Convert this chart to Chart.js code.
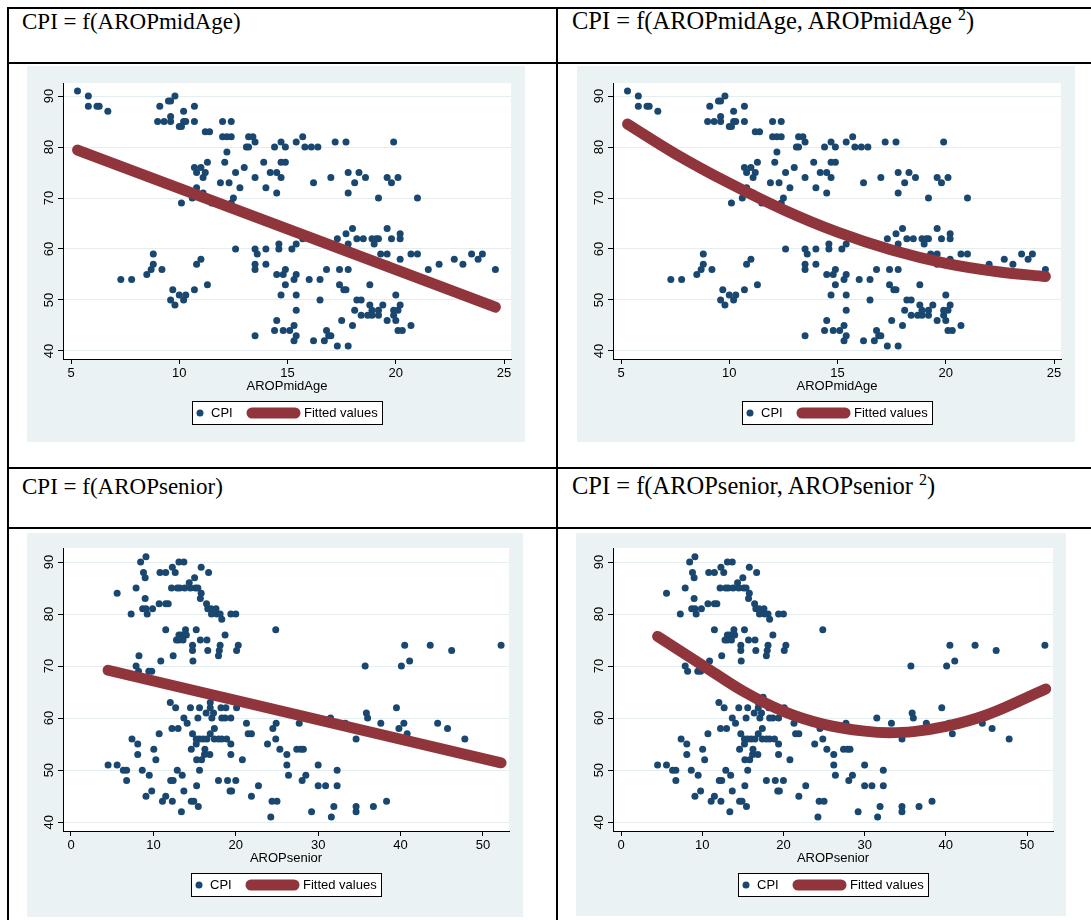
<!DOCTYPE html>
<html>
<head>
<meta charset="utf-8">
<script src="https://cdn.jsdelivr.net/npm/chart.js@4.4.1/dist/chart.umd.min.js"></script>
<style>
  html, body { margin: 0; padding: 0; background: #fff; }
  body { width: 1091px; height: 920px; overflow: hidden; position: relative; }
  .rule { position: absolute; background: #000; }
  .head { position: absolute; font-family: "Liberation Serif", "Times New Roman", serif; font-size: 23px; line-height: 23px; color: #000; white-space: nowrap; }
  .head.big { font-size: 24.5px; line-height: 24.5px; }
  .head .sup { font-size: 16px; position: relative; top: -9px; }
  canvas { position: absolute; background: #eaf2f3; }
</style>
</head>
<body>
  <div class="rule" style="left:7px;top:7px;width:1100px;height:2px"></div>
  <div class="rule" style="left:7px;top:7px;width:2px;height:920px"></div>
  <div class="rule" style="left:556px;top:7px;width:2px;height:920px"></div>
  <div class="rule" style="left:7px;top:62px;width:1100px;height:2px"></div>
  <div class="rule" style="left:7px;top:467px;width:1100px;height:2px"></div>
  <div class="rule" style="left:7px;top:527px;width:1100px;height:2px"></div>

  <div class="head" style="left:22px;top:10px">CPI = f(AROPmidAge)</div>
  <div class="head big" style="left:572px;top:9px">CPI = f(AROPmidAge, AROPmidAge <span class="sup">2</span>)</div>
  <div class="head" style="left:22px;top:475px">CPI = f(AROPsenior)</div>
  <div class="head big" style="left:572px;top:474px">CPI = f(AROPsenior, AROPsenior <span class="sup">2</span>)</div>

  <canvas id="midLin" width="498" height="376" style="left:27px;top:66px"></canvas>
  <canvas id="midQuad" width="498" height="376" style="left:577px;top:66px"></canvas>
  <canvas id="senLin" width="496" height="384" style="left:27px;top:533px"></canvas>
  <canvas id="senQuad" width="490" height="383" style="left:576px;top:533px"></canvas>

<script>
// CPI against at-risk-of-poverty rate, middle-aged population
const midAgeX = [
  5.3,
  5.8, 9.8,
  9.5, 9.6,
  5.8, 6.2, 6.3, 9.1, 10.7,
  6.7, 10.2,
  9.6,
  9.0, 9.3, 9.6, 10.2, 10.3, 10.7, 12.0, 12.4,
  10.0, 10.1,
  11.2, 11.4,
  12.0, 12.2, 12.4, 13.2, 13.4, 15.7,
  13.5, 14.7, 15.4, 17.2, 17.7, 19.9,
  13.1, 13.2, 14.4, 14.9, 15.8, 16.1, 16.4,
  12.2,
  11.3, 12.1, 13.9, 14.7, 14.9,
  10.7, 11.0, 13.0,
  10.8, 11.2, 12.6, 14.2, 14.5, 17.8, 18.3,
  11.1, 13.5, 14.7, 17.0, 18.6, 19.6, 20.1,
  11.9, 12.3, 16.2, 18.1, 19.8,
  10.8, 12.8, 14.0,
  11.1, 14.5, 17.8,
  10.6, 12.5, 19.2, 21.0,
  10.1, 11.5, 12.4,
  18.0, 19.6,
  17.7, 20.2,
  15.7, 17.3, 18.2, 18.5, 18.9, 19.1, 19.2, 19.8, 20.2,
  14.6, 15.4, 17.8, 19.0,
  12.6, 13.5, 14.0, 14.6, 15.2, 17.3, 17.8,
  8.8, 13.6, 19.3, 19.6, 20.7, 21.0, 23.5, 24.0,
  11.0, 20.2, 22.7, 23.8,
  8.8, 10.8, 13.5, 14.0, 19.6, 22.0, 23.1,
  8.7, 9.2, 13.5, 14.9, 16.8, 17.4, 17.8, 21.5, 24.6,
  8.5, 14.5, 14.8, 15.4,
  7.3, 7.8, 15.3, 16.0, 16.5,
  11.3, 14.9, 17.4, 18.8,
  9.7, 10.7, 17.6, 17.7,
  10.0, 10.3, 14.7, 15.4, 20.0,
  9.6, 10.2, 16.5, 18.2, 18.4,
  9.8, 18.8, 19.4, 20.2,
  15.4, 18.1, 18.9, 19.2, 19.9, 20.1,
  18.4, 18.7, 18.9, 19.2, 19.9,
  14.5, 17.5, 19.6, 20.0,
  15.3, 18.0, 20.7,
  14.4, 14.8, 15.1, 16.8, 20.1, 20.3,
  13.5, 15.4, 16.9, 17.0,
  15.3, 16.2, 16.7,
  17.3, 17.8
];
const midAgeCPI = [
  91,
  90, 90,
  89, 89,
  88, 88, 88, 88, 88,
  87, 87,
  86,
  85, 85, 85, 85, 85, 85, 85, 85,
  84, 84,
  83, 83,
  82, 82, 82, 82, 82, 82,
  81, 81, 81, 81, 81, 81,
  80, 80, 80, 80, 80, 80, 80,
  79,
  77, 77, 77, 77, 77,
  76, 76, 76,
  75, 75, 75, 75, 75, 75, 75,
  74, 74, 74, 74, 74, 74, 74,
  73, 73, 73, 73, 73,
  72, 72, 72,
  71, 71, 71,
  70, 70, 70, 70,
  69, 69, 69,
  64, 64,
  63, 63,
  62, 62, 62, 62, 62, 62, 62, 62, 62,
  61, 61, 61, 61,
  60, 60, 60, 60, 60, 60, 60,
  59, 59, 59, 59, 59, 59, 59, 59,
  58, 58, 58, 58,
  57, 57, 57, 57, 57, 57, 57,
  56, 56, 56, 56, 56, 56, 56, 56, 56,
  55, 55, 55, 55,
  54, 54, 54, 54, 54,
  53, 53, 53, 53,
  52, 52, 52, 52,
  51, 51, 51, 51, 51,
  50, 50, 50, 50, 50,
  49, 49, 49, 49,
  48, 48, 48, 48, 48, 48,
  47, 47, 47, 47, 47,
  46, 46, 46, 46,
  45, 45, 45,
  44, 44, 44, 44, 44, 44,
  43, 43, 43, 43,
  42, 42, 42,
  41, 41
];

// CPI against at-risk-of-poverty rate, seniors
const seniorX = [
  9.1,
  8.45, 13.1, 13.7,
  12.3, 15.8,
  8.8, 10.8, 11.5, 12.65, 16.7,
  9.0, 15.0,
  14.35,
  7.9, 12.2, 12.9, 13.2, 13.8, 14.5, 15.1, 15.4,
  5.6, 15.8,
  9.0, 15.7,
  10.7, 11.5, 11.8, 16.45,
  8.7, 9.1, 9.9, 16.6, 17.0, 17.6,
  7.3, 9.25, 17.05, 17.7, 18.1, 19.4, 20.0,
  18.3,
  11.5, 13.9, 15.2, 24.85,
  13.1, 13.4, 14.0, 18.7,
  12.8, 13.1, 13.6, 15.7, 16.5,
  14.75, 18.1, 20.3, 40.5, 43.6, 52.2,
  14.75, 16.6, 18.0, 20.1, 46.2,
  8.25, 12.4, 17.9,
  10.9, 14.8, 41.1,
  7.9, 35.7, 40.1,
  8.2, 9.45, 9.8,
  17.5,
  12.05, 16.9,
  12.7, 14.5, 15.6, 16.9, 18.2, 18.8, 20.1, 39.5,
  16.4, 17.3, 35.85,
  13.7, 15.4, 17.1, 18.3, 18.7, 19.4, 31.5, 36.0,
  14.1, 21.3, 24.9, 27.7, 33.3, 37.6, 40.4, 44.5,
  12.25, 13.0, 17.4, 24.5, 39.8, 45.7,
  10.7, 14.75, 16.9, 21.5, 21.9, 40.8,
  7.4, 15.2, 15.6, 16.05, 16.5, 17.4, 17.9, 18.3, 18.9, 24.85, 34.6, 47.8,
  8.1, 15.2, 19.4, 23.85,
  10.05, 14.6, 16.25, 25.35, 27.4, 27.9, 28.2,
  8.1, 16.2, 16.85, 19.4, 26.2,
  10.3, 15.25, 15.85, 20.8,
  4.5, 5.6, 26.2, 30.0,
  6.35, 6.75, 8.65, 12.9, 15.6, 32.3,
  9.5, 13.5, 26.4, 28.5,
  6.75, 12.1, 12.4, 17.9, 19.0, 20.0, 28.05,
  15.25, 22.75, 30.0, 30.9, 32.3,
  9.8, 13.7, 19.3, 19.5,
  9.1, 11.5, 21.9,
  11.1, 12.3, 14.6, 14.9, 24.4, 25.0, 38.3,
  15.45, 31.9, 34.6, 36.7,
  13.4, 29.2, 34.6,
  24.25, 31.6
];
const seniorCPI = [
  91,
  90, 90, 90,
  89, 89,
  88, 88, 88, 88, 88,
  87, 87,
  86,
  85, 85, 85, 85, 85, 85, 85, 85,
  84, 84,
  83, 83,
  82, 82, 82, 82,
  81, 81, 81, 81, 81, 81,
  80, 80, 80, 80, 80, 80, 80,
  79,
  77, 77, 77, 77,
  76, 76, 76, 76,
  75, 75, 75, 75, 75,
  74, 74, 74, 74, 74, 74,
  73, 73, 73, 73, 73,
  72, 72, 72,
  71, 71, 71,
  70, 70, 70,
  69, 69, 69,
  64,
  63, 63,
  62, 62, 62, 62, 62, 62, 62, 62,
  61, 61, 61,
  60, 60, 60, 60, 60, 60, 60, 60,
  59, 59, 59, 59, 59, 59, 59, 59,
  58, 58, 58, 58, 58, 58,
  57, 57, 57, 57, 57, 57,
  56, 56, 56, 56, 56, 56, 56, 56, 56, 56, 56, 56,
  55, 55, 55, 55,
  54, 54, 54, 54, 54, 54, 54,
  53, 53, 53, 53, 53,
  52, 52, 52, 52,
  51, 51, 51, 51,
  50, 50, 50, 50, 50, 50,
  49, 49, 49, 49,
  48, 48, 48, 48, 48, 48, 48,
  47, 47, 47, 47, 47,
  46, 46, 46, 46,
  45, 45, 45,
  44, 44, 44, 44, 44, 44, 44,
  43, 43, 43, 43,
  42, 42, 42,
  41, 41
];

// fitted values
const fitMidLinX = [5.3, 24.6];
const fitMidLinY = [79.4, 48.6];
const fitMidQuadX = [5.3, 7.5, 10, 12.5, 15, 17.5, 20, 22.5, 24.6];
const fitMidQuadY = [84.5, 78.7, 72.9, 67.7, 63.3, 59.8, 57.2, 55.5, 54.6];
const fitSenLinX = [4.5, 52.2];
const fitSenLinY = [69.2, 51.4];
const fitSenQuadX = [4.5, 10, 15, 20, 25, 30, 33, 36, 40, 45, 52.3];
const fitSenQuadY = [75.7, 70.2, 65.2, 61.3, 58.8, 57.5, 57.2, 57.4, 58.4, 60.6, 65.6];

const midAgeTicks = [5, 10, 15, 20, 25];
const seniorTicks = [0, 10, 20, 30, 40, 50];
const cpiTicks = [40, 50, 60, 70, 80, 90];

const NAVY = "#1a476f";
const MAROON = "#90353b";
const FONT = { family: "'Liberation Sans', Arial, sans-serif", size: 13 };
const AXIS_H = 40;

const plotBackground = {
  id: "plotBackground",
  beforeDraw(chart) {
    const { ctx, chartArea: a } = chart;
    ctx.save();
    ctx.fillStyle = "#fff";
    ctx.fillRect(a.left, a.top, a.right - a.left, a.bottom - a.top);
    ctx.restore();
  }
};

// Stata writes the y labels turned on their side
const sideLabels = {
  id: "sideLabels",
  afterDraw(chart) {
    const { ctx } = chart;
    const s = chart.scales.y;
    ctx.save();
    ctx.font = "13px " + FONT.family;
    ctx.fillStyle = "#000";
    ctx.textAlign = "center";
    ctx.textBaseline = "middle";
    s.ticks.forEach(t => {
      ctx.save();
      ctx.translate(s.right - 14, s.getPixelForValue(t.value));
      ctx.rotate(-Math.PI / 2);
      ctx.fillText(String(t.value), 0, 0);
      ctx.restore();
    });
    ctx.restore();
  }
};

const boxedLegend = {
  id: "boxedLegend",
  afterDraw(chart) {
    const { ctx, chartArea: a } = chart;
    const fit = chart.data.datasets[0];
    const pts = chart.data.datasets[1];
    const w = 191, h = 24;
    const left = Math.round((a.left + a.right) / 2 - w / 2);
    const top = Math.round(a.bottom + 42);
    const my = top + h / 2;
    ctx.save();
    ctx.fillStyle = "#fff";
    ctx.fillRect(left, top, w, h);
    ctx.strokeStyle = "#000";
    ctx.lineWidth = 1;
    ctx.strokeRect(left + 0.5, top + 0.5, w - 1, h - 1);
    ctx.fillStyle = pts.backgroundColor;
    ctx.beginPath();
    ctx.arc(left + 8, my, 3.5, 0, Math.PI * 2);
    ctx.fill();
    ctx.strokeStyle = fit.borderColor;
    ctx.lineWidth = fit.borderWidth;
    ctx.lineCap = "round";
    ctx.beginPath();
    ctx.moveTo(left + 60, my);
    ctx.lineTo(left + 103, my);
    ctx.stroke();
    ctx.font = "13px " + FONT.family;
    ctx.fillStyle = "#000";
    ctx.textBaseline = "middle";
    ctx.fillText(pts.label, left + 19, my + 0.5);
    ctx.fillText(fit.label, left + 112, my + 0.5);
    ctx.restore();
  }
};

function pairs(xs, ys) {
  return xs.map((x, i) => ({ x, y: ys[i] }));
}

function panel(id, c) {
  const el = document.getElementById(id);
  const box = { left: el.offsetLeft, top: el.offsetTop, w: el.width, h: el.height };
  return new Chart(el.getContext("2d"), {
    data: {
      datasets: [
        {
          type: "line",
          label: "Fitted values",
          data: pairs(c.fitX, c.fitY),
          borderColor: MAROON,
          borderWidth: 11,
          borderCapStyle: "round",
          borderJoinStyle: "round",
          cubicInterpolationMode: "monotone",
          pointRadius: 0,
          fill: false,
          order: 0
        },
        {
          type: "scatter",
          label: "CPI",
          data: pairs(c.x, c.y),
          backgroundColor: NAVY,
          borderColor: NAVY,
          borderWidth: 0,
          pointRadius: 3.5,
          order: 1
        }
      ]
    },
    options: {
      responsive: false,
      animation: false,
      events: [],
      layout: {
        padding: {
          left: 0,
          top: c.area.t - box.top,
          right: box.left + box.w - c.area.r,
          bottom: box.top + box.h - c.area.b - AXIS_H
        }
      },
      plugins: { legend: { display: false }, tooltip: { enabled: false } },
      scales: {
        x: {
          type: "linear",
          min: c.xMin,
          max: c.xMax,
          afterBuildTicks: s => { s.ticks = c.xTicks.map(v => ({ value: v })); },
          afterFit: s => { s.height = AXIS_H; },
          grid: { drawOnChartArea: false, drawTicks: true, tickLength: 5, tickColor: "#000" },
          border: { color: "#000", width: 1 },
          ticks: { color: "#000", font: FONT, padding: 2, maxRotation: 0 },
          title: { display: true, text: c.xTitle, color: "#000", font: FONT, padding: { top: 0, bottom: 5 } }
        },
        y: {
          type: "linear",
          min: c.yMin,
          max: c.yMax,
          afterBuildTicks: s => { s.ticks = cpiTicks.map(v => ({ value: v })); },
          afterFit: s => { s.width = c.area.l - box.left; },
          grid: { color: "#e5edef", lineWidth: 1, drawTicks: true, tickLength: 5, tickColor: "#000" },
          border: { color: "#000", width: 1 },
          ticks: { display: false }
        }
      }
    },
    plugins: [plotBackground, sideLabels, boxedLegend]
  });
}

panel("midLin", {
  x: midAgeX, y: midAgeCPI, fitX: fitMidLinX, fitY: fitMidLinY,
  xMin: 4.63, xMax: 25.32, xTicks: midAgeTicks, xTitle: "AROPmidAge",
  yMin: 38.43, yMax: 92.55,
  area: { l: 63, t: 83, r: 511, b: 359 }
});
panel("midQuad", {
  x: midAgeX, y: midAgeCPI, fitX: fitMidQuadX, fitY: fitMidQuadY,
  xMin: 4.63, xMax: 25.32, xTicks: midAgeTicks, xTitle: "AROPmidAge",
  yMin: 38.43, yMax: 92.55,
  area: { l: 613, t: 83, r: 1061, b: 359 }
});
panel("senLin", {
  x: seniorX, y: seniorCPI, fitX: fitSenLinX, fitY: fitSenLinY,
  xMin: -0.97, xMax: 53.16, xTicks: seniorTicks, xTitle: "AROPsenior",
  yMin: 38.3, yMax: 92.7,
  area: { l: 63, t: 548, r: 509, b: 831 }
});
panel("senQuad", {
  x: seniorX, y: seniorCPI, fitX: fitSenQuadX, fitY: fitSenQuadY,
  xMin: -0.99, xMax: 53.2, xTicks: seniorTicks, xTitle: "AROPsenior",
  yMin: 38.3, yMax: 92.7,
  area: { l: 613, t: 548, r: 1053, b: 831 }
});
</script>
</body>
</html>
